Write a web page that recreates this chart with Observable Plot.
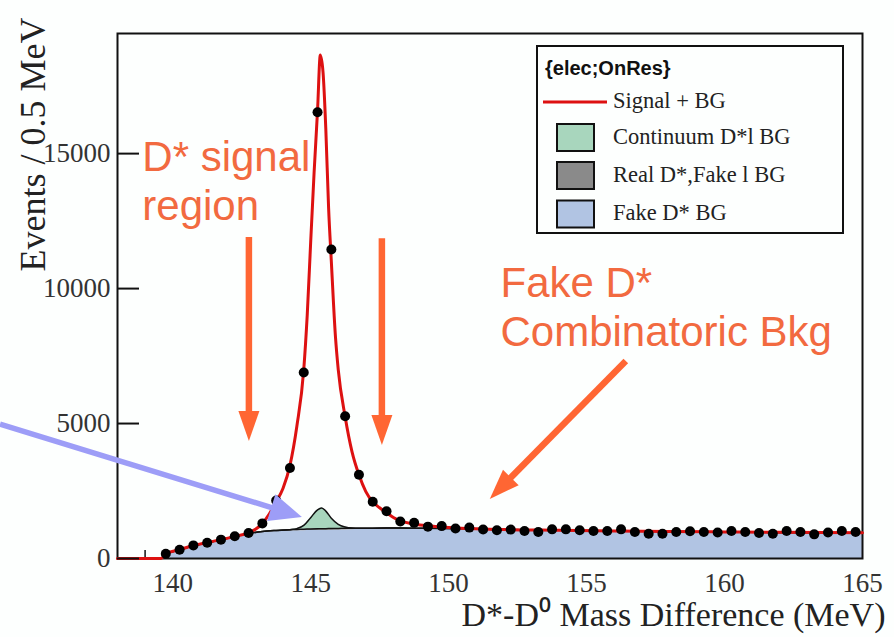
<!DOCTYPE html>
<html>
<head>
<meta charset="utf-8">
<script src="https://cdn.jsdelivr.net/npm/d3@7"></script>
<script src="https://cdn.jsdelivr.net/npm/@observablehq/plot@0.6"></script>
<style>
html, body { margin: 0; padding: 0; background: #fdfffe; }
#chart { width: 894px; height: 637px; overflow: hidden; }
#chart svg { overflow: visible; }
</style>
</head>
<body>
<div id="chart"></div>
<script>
// ---------- data ----------
// measured points: bin centres (MeV) and events per 0.5 MeV
const massBins = [139.75, 140.25, 140.75, 141.25, 141.75, 142.25, 142.75, 143.25, 143.75, 144.25,
  144.75, 145.25, 145.75, 146.25, 146.75, 147.25, 147.75, 148.25, 148.75, 149.25,
  149.75, 150.25, 150.75, 151.25, 151.75, 152.25, 152.75, 153.25, 153.75, 154.25,
  154.75, 155.25, 155.75, 156.25, 156.75, 157.25, 157.75, 158.25, 158.75, 159.25,
  159.75, 160.25, 160.75, 161.25, 161.75, 162.25, 162.75, 163.25, 163.75, 164.25, 164.75];
const events = [175, 325, 485, 586, 698, 821, 944, 1300, 2150, 3350,
  6890, 16530, 11450, 5270, 3100, 2100, 1750, 1370, 1320, 1180,
  1200, 1110, 1145, 1075, 1045, 1070, 1020, 985, 1080, 1080,
  1045, 1020, 1020, 1080, 985, 920, 920, 985, 1010, 985,
  960, 1020, 985, 945, 920, 1020, 985, 895, 960, 1020, 985];

// fitted "Signal + BG" curve
const fitMass = [138, 139.57, 139.75, 140.25, 140.75, 141.25, 141.75, 142.25, 142.75, 143.0,
  143.25, 143.5, 143.75, 144.0, 144.25, 144.5, 144.75, 144.875, 145.0, 145.125,
  145.25, 145.35, 145.45, 145.55, 145.65, 145.75, 145.9, 146.0, 146.25, 146.5,
  146.75, 147.0, 147.25, 147.5, 147.75, 148.0, 148.25, 148.75, 149.25, 150,
  151, 152, 154, 156, 158, 160, 162, 165];
const fitSignalPlusBG = [0, 0, 170, 325, 480, 590, 700, 820, 950, 1080,
  1300, 1650, 2100, 2600, 3450, 4900, 7000, 9000, 11700, 14300,
  16600, 18650, 18000, 15900, 13000, 11000, 8200, 7000, 5250, 3950,
  3100, 2480, 2100, 1880, 1700, 1520, 1390, 1280, 1210, 1150,
  1100, 1070, 1045, 1020, 1000, 985, 970, 955];

// background components (stacked)
const bgMass = [138, 139.57, 139.75, 140.25, 140.75, 141.25, 141.75, 142.25, 142.75, 143.25,
  143.75, 144.25, 144.5, 144.75, 145.0, 145.25, 145.4, 145.55, 145.75, 146.0,
  146.25, 146.5, 146.75, 147.25, 147.75, 148.25, 148.75, 149.25, 150, 151,
  152, 154, 156, 158, 160, 162, 165];
const fakeDstarBG = [0, 0, 155, 310, 465, 575, 685, 800, 905, 970,
  1000, 1020, 1025, 1030, 1035, 1040, 1043, 1046, 1050, 1055,
  1060, 1065, 1070, 1075, 1080, 1085, 1085, 1085, 1080, 1060,
  1040, 1015, 990, 970, 955, 940, 925];
const realDstarFakeLeptonBG = [0, 0, 2, 4, 6, 8, 10, 14, 20, 30,
  40, 48, 52, 55, 58, 60, 60, 60, 60, 60,
  58, 56, 54, 50, 46, 42, 40, 38, 36, 34,
  32, 30, 28, 26, 25, 24, 24];
const continuumBG = [0, 0, 0, 0, 0, 0, 0, 0, 0, 0,
  0, 0, 30, 140, 420, 700, 770, 650, 380, 150,
  50, 10, 0, 0, 0, 0, 0, 0, 0, 0,
  0, 0, 0, 0, 0, 0, 0];

const componentNames = ["Fake D* BG", "Real D*,Fake l BG", "Continuum D*l BG"];
const componentColors = ["#b1c4e3", "#8a8a8a", "#a8d6bd"];

const legendTitle = "{elec;OnRes}";
const legendLabels = ["Signal + BG", "Continuum D*l BG", "Real D*,Fake l BG", "Fake D* BG"];

const xTickLabels = [140, 145, 150, 155, 160, 165];
const xTickMarks = [139, 140, 141, 142, 143, 144, 145, 146, 147, 148, 149, 150, 151, 152, 153, 154, 155, 156, 157, 158, 159, 160, 161, 162, 163, 164];
const yTickLabels = [0, 5000, 10000, 15000];
const xTitle = "D*-D\u2070 Mass Difference (MeV)";
const yTitle = "Events / 0.5 MeV";

// annotations (data coordinates)
const noteText = ["D* signal\nregion", "Fake D*\nCombinatoric Bkg"];
const noteX = [138.9, 151.88];
const noteY = [15650, 10970];
const arrowFromX = [142.78, 147.60, 156.44, 133.76];
const arrowFromY = [11890, 11850, 7300, 4960];
const arrowToX = [142.78, 147.60, 151.51, 144.70];
const arrowToY = [4330, 4190, 2190, 1520];
const arrowKind = ["signal", "signal", "combinatoric", "continuum"];

// ---------- build tables ----------
const pointRows = massBins.map((x, i) => ({x, y: events[i]}));
const fitRows = fitMass.map((x, i) => ({x, y: fitSignalPlusBG[i]}));
const bgRows = [];
const comps = [fakeDstarBG, realDstarFakeLeptonBG, continuumBG];
comps.forEach((arr, c) => bgMass.forEach((x, i) => bgRows.push({x, v: arr[i], comp: componentNames[c]})));
const noteRows = noteText.map((t, i) => ({t, x: noteX[i], y: noteY[i]}));
const arrowRows = arrowFromX.map((x1, i) => ({x1, y1: arrowFromY[i], x2: arrowToX[i], y2: arrowToY[i], kind: arrowKind[i]}));

const arrowStyle = {
  signal: {color: "#ff6633", width: 6.5, head: 30, half: 10.5},
  combinatoric: {color: "#ff6633", width: 6.5, head: 30, half: 11},
  continuum: {color: "#9d9df7", width: 5.5, head: 32, half: 14}
};

function arrowsMark(index, scales) {
  const g = d3.create("svg:g");
  for (const a of arrowRows) {
    const s = arrowStyle[a.kind];
    const x1 = scales.x(a.x1), y1 = scales.y(a.y1), x2 = scales.x(a.x2), y2 = scales.y(a.y2);
    const dx = x2 - x1, dy = y2 - y1, L = Math.hypot(dx, dy), ux = dx / L, uy = dy / L;
    const bx = x2 - ux * s.head, by = y2 - uy * s.head;
    g.append("line").attr("x1", x1).attr("y1", y1).attr("x2", bx + ux * 2).attr("y2", by + uy * 2)
      .attr("stroke", s.color).attr("stroke-width", s.width);
    g.append("polygon")
      .attr("points", `${x2},${y2} ${bx - uy * s.half},${by + ux * s.half} ${bx + uy * s.half},${by - ux * s.half}`)
      .attr("fill", s.color);
  }
  return g.node();
}

function legendMark() {
  const g = d3.create("svg:g").attr("text-anchor", "start");
  const L = 537, T = 46, W = 306, H = 187;
  g.append("rect").attr("x", L).attr("y", T).attr("width", W).attr("height", H)
    .attr("fill", "#fdfffe").attr("stroke", "#111").attr("stroke-width", 2);
  g.append("text").attr("x", L + 8).attr("y", T + 29).text(legendTitle)
    .attr("text-anchor", "start")
    .attr("font-family", "Liberation Sans, Arial, sans-serif").attr("font-weight", "bold")
    .attr("font-size", 20).attr("fill", "#111");
  const rowY = [T + 62, T + 97.5, T + 135.5, T + 174];
  g.append("line").attr("x1", L + 6).attr("x2", L + 70).attr("y1", rowY[0] - 6).attr("y2", rowY[0] - 6)
    .attr("stroke", "#dd1111").attr("stroke-width", 3);
  const boxFill = [componentColors[2], componentColors[1], componentColors[0]];
  for (let i = 1; i < 4; i++) {
    g.append("rect").attr("x", L + 20).attr("y", rowY[i] - 19.5).attr("width", 37).attr("height", 27)
      .attr("fill", boxFill[i - 1]).attr("stroke", "#111").attr("stroke-width", 2);
  }
  legendLabels.forEach((lab, i) => {
    g.append("text").attr("x", L + 76).attr("y", rowY[i]).text(lab)
      .attr("text-anchor", "start")
      .attr("font-family", "Liberation Serif, Times New Roman, serif").attr("font-size", 22.5).attr("fill", "#222");
  });
  return g.node();
}

const plot = Plot.plot({
  width: 894,
  height: 637,
  marginLeft: 117,
  marginRight: 32,
  marginTop: 33,
  marginBottom: 79,
  x: {domain: [138, 165], label: null},
  y: {domain: [0, 19450], label: null},
  color: {domain: componentNames, range: componentColors},
  style: {background: "transparent", fontFamily: "Liberation Serif, Times New Roman, serif", overflow: "visible"},
  marks: [
    Plot.tickX(xTickMarks, {x: d => d, insetTop: 517, stroke: "#111", strokeWidth: 1.5}),
    Plot.areaY(bgRows, {x: "x", y: "v", z: "comp", fill: "comp", order: componentNames, curve: "monotone-x"}),
    Plot.lineY(bgRows, Plot.stackY2({x: "x", y: "v", z: "comp", order: componentNames, curve: "monotone-x", stroke: d => d.comp === componentNames[0] ? "none" : "#111", strokeWidth: 1.5})),
    Plot.frame({stroke: "#111", strokeWidth: 2}),
    Plot.line(fitRows, {x: "x", y: "y", stroke: "#dd1111", strokeWidth: 3, curve: "monotone-x"}),
    Plot.dot(pointRows, {x: "x", y: "y", r: 5, fill: "#000", stroke: "none"}),
    Plot.tickY(yTickLabels, {y: d => d, insetRight: 723, stroke: "#111", strokeWidth: 2}),
    Plot.axisY({ticks: yTickLabels, tickSize: 0, tickPadding: 7, fontSize: 27, color: "#333", label: null, tickFormat: d => String(d)}),
    Plot.axisX({ticks: xTickLabels, tickSize: 0, tickPadding: 14, fontSize: 27, color: "#333", label: null, tickFormat: d => String(d)}),
    Plot.text([xTitle], {frameAnchor: "bottom-right", text: d => d, textAnchor: "end", lineAnchor: "middle", dx: 23, dy: 57, fontSize: 34, fill: "#222"}),
    Plot.text([yTitle], {frameAnchor: "top-left", text: d => d, textAnchor: "end", lineAnchor: "middle", rotate: -90, dx: -84, dy: -16, fontSize: 36, fill: "#222"}),
    Plot.text(noteRows, {x: "x", y: "y", text: "t", textAnchor: "start", lineAnchor: "top", lineHeight: 1.17, fontSize: 42, fontFamily: "Liberation Sans, Arial, sans-serif", fill: "#f26a40"}),
    arrowsMark,
    legendMark
  ]
});
document.getElementById("chart").append(plot);
</script>
</body>
</html>
